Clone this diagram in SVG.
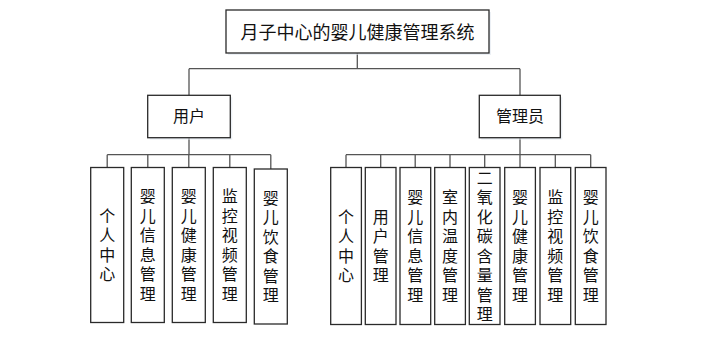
<svg xmlns="http://www.w3.org/2000/svg" width="720" height="339" viewBox="0 0 720 339">
<style>
.box{fill:#fff;stroke:#2a2a2a;stroke-width:1.3}
.sh{fill:#dfe6ee;opacity:0.6}
.ln{fill:none;stroke:#555;stroke-width:1.3}
text{font-family:"Noto Sans CJK SC","Noto Sans",sans-serif;fill:#111;font-size:16px;text-anchor:middle}
.t{font-size:18px}
.v{writing-mode:vertical-rl;letter-spacing:3.5px}
</style>
<rect width="720" height="339" fill="#fff"/>
<g id="connectors">
<path class="ln" d="M357.3,53V68.7M189,68.7H520M189,68.7V95.3M520,68.7V95.3"/>
<path class="ln" d="M189,137.7V154.7M107.2,154.7H270.8M107.2,154.7V167.5M147.8,154.7V167.5M188.8,154.7V167.5M229.8,154.7V167.5M270.8,154.7V169"/>
<path class="ln" d="M520,137.7V154.7M346,154.7H590.7M346,154.7V167.5M380.7,154.7V167.5M415.2,154.7V167.5M450,154.7V167.5M484.7,154.7V167.5M520,154.7V167.5M555.3,154.7V167.5M590.7,154.7V167.5"/>
</g>
<g id="root">
<rect class="sh" x="228" y="12" width="263" height="43"/>
<rect class="box" x="226" y="10" width="263" height="43"/>
<text class="t" x="357.5" y="38.5">月子中心的婴儿健康管理系统</text>
</g>
<g id="user">
<rect class="sh" x="149.7" y="97.3" width="82.6" height="42.4"/>
<rect class="box" x="147.7" y="95.3" width="82.6" height="42.4"/>
<text x="189" y="122">用户</text>
</g>
<g id="admin">
<rect class="sh" x="481.3" y="97.3" width="81" height="42.4"/>
<rect class="box" x="479.3" y="95.3" width="81" height="42.4"/>
<text x="520" y="122">管理员</text>
</g>
<g id="u1">
<rect class="box" x="90.7" y="167.5" width="33" height="155"/>
<text class="v" x="107.2" y="246.5">个人中心</text>
</g>
<g id="u2">
<rect class="box" x="131.3" y="167.5" width="33" height="155"/>
<text class="v" x="147.8" y="246.5">婴儿信息管理</text>
</g>
<g id="u3">
<rect class="box" x="172.3" y="167.5" width="33" height="155"/>
<text class="v" x="188.8" y="246.5">婴儿健康管理</text>
</g>
<g id="u4">
<rect class="box" x="213.3" y="167.5" width="33" height="155"/>
<text class="v" x="229.8" y="246.5">监控视频管理</text>
</g>
<g id="u5">
<rect class="box" x="254.3" y="169" width="33" height="155"/>
<text class="v" x="270.8" y="248">婴儿饮食管理</text>
</g>
<g id="a1">
<rect class="box" x="330.7" y="167.5" width="30.7" height="157"/>
<text class="v" x="346" y="247.75">个人中心</text>
</g>
<g id="a2">
<rect class="box" x="365.3" y="167.5" width="30.7" height="157"/>
<text class="v" x="380.7" y="247.75">用户管理</text>
</g>
<g id="a3">
<rect class="box" x="400" y="167.5" width="30.7" height="157"/>
<text class="v" x="415.3" y="247.75">婴儿信息管理</text>
</g>
<g id="a4">
<rect class="box" x="434.7" y="167.5" width="30.7" height="157"/>
<text class="v" x="450" y="247.75">室内温度管理</text>
</g>
<g id="a5">
<rect class="box" x="469.3" y="167.5" width="30.7" height="157"/>
<text class="v" x="484.7" y="247.75">二氧化碳含量管理</text>
</g>
<g id="a6">
<rect class="box" x="504.7" y="167.5" width="30.7" height="157"/>
<text class="v" x="520" y="247.75">婴儿健康管理</text>
</g>
<g id="a7">
<rect class="box" x="540" y="167.5" width="30.7" height="157"/>
<text class="v" x="555.3" y="247.75">监控视频管理</text>
</g>
<g id="a8">
<rect class="box" x="575.3" y="167.5" width="30.7" height="157"/>
<text class="v" x="590.7" y="247.75">婴儿饮食管理</text>
</g>
</svg>
